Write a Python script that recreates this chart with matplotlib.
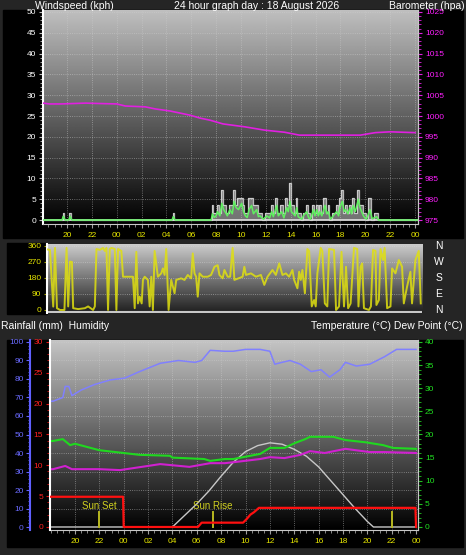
import numpy as np
import matplotlib
matplotlib.use('Agg')
import matplotlib.pyplot as plt
from matplotlib.patches import Rectangle
from matplotlib.ticker import MultipleLocator

plt.rcParams['font.family'] = ['Liberation Sans', 'DejaVu Sans']

# hours: 20 = 20:00 previous day, 24 = 00:00, 48 = 00:00 end of day
hour_ticks = [20, 22, 24, 26, 28, 30, 32, 34, 36, 38, 40, 42, 44, 46, 48]
hour_labels = ['20', '22', '00', '02', '04', '06', '08', '10', '12', '14', '16', '18', '20', '22', '00']

# windspeed (kph): gust and average
wind_t = [18.07, 19.6, 19.7, 19.85, 20.15, 20.25, 20.4, 28.45, 28.55, 28.7,
          31.6, 31.7, 31.85, 32.0, 32.1, 32.3, 32.45, 32.6, 32.75, 32.9,
          33.1, 33.3, 33.45, 33.6, 33.8, 34.05, 34.2, 34.35, 34.5, 34.65,
          34.85, 35.0, 35.26, 35.4, 35.53, 35.8, 36.07, 36.3, 36.47, 36.6,
          36.87, 37.0, 37.27, 37.45, 37.67, 37.8, 37.94, 38.05, 38.21, 38.35,
          38.48, 38.6, 38.74, 38.9, 39.01, 39.15, 39.28, 39.45, 39.6, 39.82,
          39.95, 40.09, 40.22, 40.35, 40.5, 40.76, 40.9, 41.02, 41.2, 41.42,
          41.55, 41.7, 41.85, 41.96, 42.15, 42.3, 42.42, 42.6, 42.77, 42.9,
          43.03, 43.2, 43.44, 43.57, 43.7, 43.85, 43.97, 44.1, 44.38, 44.55,
          44.92, 45.05, 48.24]
gust_v = [0, 0, 1.8, 0, 0, 1.8, 0, 0, 1.8, 0,
          0, 3.6, 1.8, 1.8, 3.6, 1.8, 7.2, 3.6, 3.6, 1.8,
          3.6, 3.6, 7.2, 3.6, 5.4, 5.4, 3.6, 1.8, 1.8, 5.4,
          5.4, 3.6, 3.6, 1.8, 1.8, 0, 1.8, 1.8, 3.6, 1.8,
          5.4, 1.8, 3.6, 1.8, 5.4, 3.6, 9.0, 3.6, 3.6, 1.8,
          5.4, 1.8, 1.8, 0, 1.8, 1.8, 3.6, 1.8, 0, 3.6,
          1.8, 3.6, 1.8, 3.6, 1.8, 5.4, 1.8, 3.6, 0, 1.8,
          1.8, 3.6, 1.8, 5.4, 7.2, 1.8, 3.6, 1.8, 3.6, 1.8,
          5.4, 1.8, 7.2, 3.6, 3.6, 1.8, 1.8, 0, 5.4, 0,
          1.8, 0, 0]
avg_v = [0, 0, 0.9, 0, 0, 0.9, 0, 0, 0.8, 0,
         0, 1.5, 0.6, 1.0, 2.0, 1.0, 4.0, 2.5, 1.8, 1.0,
         2.5, 1.5, 4.5, 3.0, 2.5, 4.0, 2.0, 1.0, 0.6, 2.5,
         3.5, 1.5, 2.5, 0.8, 1.0, 0.2, 1.0, 0.5, 2.0, 0.8,
         3.5, 1.0, 2.0, 0.5, 3.0, 2.0, 4.5, 2.0, 1.5, 1.0,
         3.0, 0.8, 0.5, 0.2, 1.0, 1.5, 2.0, 0.5, 0.2, 2.5,
         1.0, 2.5, 1.0, 2.0, 1.0, 3.5, 1.5, 2.0, 0.2, 1.0,
         1.5, 2.0, 1.0, 3.0, 4.5, 2.0, 2.5, 1.5, 3.0, 1.5,
         3.5, 2.0, 5.0, 3.0, 2.0, 1.0, 0.5, 0.2, 2.5, 0.3,
         0.8, 0, 0]

# barometer (hpa)
baro_t = [18.07, 18.6, 19.5, 20.5, 21.5, 22.65, 24.0, 24.7, 26.3, 27.1, 28.3, 29.9, 30.7,
          31.5, 32.55, 34.3, 35.9, 37.5, 38.7, 40.0, 42.0, 43.6, 44.8, 46.0, 48.0]
baro_v = [1003.1, 1002.9, 1002.9, 1003.0, 1003.1, 1003.0, 1002.9, 1002.4, 1002.2, 1001.7,
          1001.2, 1000.2, 999.5, 999.0, 998.1, 997.4, 996.6, 996.1, 995.4, 995.4,
          995.4, 995.4, 996.0, 996.2, 996.0]

# wind direction (degrees)
dir_t = [18.07, 18.24, 18.5, 18.64, 18.8, 19.04, 19.4, 19.57, 19.7, 19.84, 20.0, 20.1, 20.5,
         21.04, 21.3, 21.7, 21.84, 21.97, 22.24, 22.5, 22.64, 22.77, 22.9, 23.04, 23.17,
         23.44, 23.57, 23.7, 23.97, 24.1, 24.24, 24.9, 25.04, 25.17, 25.3, 25.44, 25.6,
         25.7, 25.84, 26.1, 26.24, 26.37, 26.5, 26.64, 26.9, 27.17, 27.3, 27.44, 27.57,
         27.76, 27.97, 28.24, 28.37, 28.77, 29.04, 29.3, 29.57, 29.7, 29.84, 29.97, 30.1,
         30.24, 30.5, 30.9, 31.17, 31.44, 31.7, 31.84, 32.1, 32.24, 32.5, 32.7, 32.9,
         33.04, 33.7, 33.84, 33.97, 34.37, 34.77, 35.17, 35.44, 35.7, 36.1, 36.37, 36.64,
         36.9, 37.17, 37.44, 37.7, 37.84, 38.1, 38.24, 38.37, 38.5, 38.7, 38.9, 39.04,
         39.25, 39.44, 39.57, 39.7, 39.84, 39.97, 40.1, 40.3, 40.5, 40.64, 41.04, 41.2,
         41.44, 41.64, 41.84, 42.0, 42.17, 42.37, 42.64, 42.9, 43.0, 43.17, 43.3, 43.44,
         43.84, 44.0, 44.17, 44.37, 44.44, 44.64, 44.77, 44.97, 45.1, 45.3, 45.57, 45.7,
         45.97, 46.24, 46.5, 46.64, 46.9, 47.17, 47.3, 47.57, 47.84, 48.0]
dir_v = [340, 337, 19, 349, 10, 0, 0, 349, 20, 272, 270, 10, 5,
         10, 20, 0, 20, 343, 338, 349, 332, 349, 0, 343, 349,
         343, 0, 343, 332, 187, 187, 187, 10, 327, 37, 75, 37,
         169, 187, 169, 20, 187, 0, 332, 187, 206, 234, 197, 343,
         0, 169, 94, 169, 178, 169, 197, 178, 318, 206, 187, 75,
         206, 187, 187, 197, 243, 252, 197, 178, 225, 187, 187, 349,
         169, 187, 243, 197, 206, 187, 197, 141, 187, 225, 197, 262,
         197, 206, 187, 225, 169, 122, 215, 169, 225, 94, 343, 332,
         20, 56, 20, 206, 281, 349, 332, 37, 20, 343, 338, 0,
         20, 327, 20, 243, 10, 37, 349, 343, 20, 243, 262, 10,
         0, 20, 338, 332, 28, 56, 343, 281, 349, 10, 20, 234,
         206, 281, 243, 37, 131, 215, 37, 281, 332, 37]
dir_labels = ['N', 'W', 'S', 'E', 'N']
dir_label_pos = [360, 270, 180, 90, 0]

# humidity (%)
hum_t = [18.0, 18.2, 19.0, 19.2, 19.5, 19.75, 20.5, 21.6, 22.9, 24.1, 25.3, 27.0, 28.5, 29.85,
         30.4, 31.1, 32.3, 33.0, 34.0, 35.2, 36.0, 36.4, 37.0, 37.65, 38.5, 39.4, 40.2, 40.9,
         41.75, 42.2, 43.1, 44.2, 45.4, 46.4, 48.0]
hum_v = [68, 68, 70, 76, 76, 71, 74, 77, 79.5, 80.5, 84, 88.5, 90, 89,
         90, 95.5, 95, 95, 96, 96, 95, 88, 89, 90, 88, 84, 85, 81,
         85, 89, 87, 88, 92, 96, 96]

# temperature and dew point (C)
temp_t = [18.0, 18.2, 19.0, 19.6, 20.0, 22.0, 24.0, 25.3, 27.8, 28.0, 30.6, 31.1, 32.3, 33.0,
          33.8, 35.2, 36.0, 37.2, 38.1, 38.9, 39.3, 41.2, 42.2, 43.9, 45.3, 46.1, 48.0]
temp_v = [18.6, 18.6, 19.0, 17.7, 18.0, 16.6, 16.0, 15.6, 15.4, 15.0, 14.7, 14.3, 14.7, 14.7,
          15.1, 15.8, 17.1, 17.1, 18.2, 19.0, 19.5, 19.5, 18.8, 18.3, 17.7, 17.1, 16.9]
dew_t = [18.0, 18.2, 19.2, 19.75, 22.0, 23.7, 27.0, 29.4, 31.1, 32.3, 33.0, 35.2, 36.0, 37.2,
         38.5, 39.3, 40.5, 42.2, 44.2, 45.4, 48.0]
dew_v = [12.5, 12.5, 13.2, 12.5, 12.5, 12.3, 13.6, 13.0, 13.8, 13.8, 14.0, 14.7, 15.1, 14.9,
         15.6, 16.4, 16.0, 16.9, 16.2, 16.2, 16.0]

# solar curve (drawn on temperature scale)
solar_t = [18.0, 28.0, 29.0, 30.0, 31.0, 32.0, 33.0, 34.0, 35.0, 36.0, 37.0, 38.0, 39.0,
           40.0, 41.0, 42.0, 43.0, 44.0, 44.5, 48.0]
solar_v = [0, 0, 2.5, 5.0, 7.8, 11.0, 14.0, 16.3, 17.6, 18.2, 17.9, 16.8, 15.3,
           13.0, 10.0, 7.0, 4.0, 1.2, 0, 0]

# rainfall (mm)
rain_t = [18.0, 23.95, 24.0, 30.1, 30.4, 33.8, 34.1, 34.4, 34.7, 35.1, 47.95, 48.0]
rain_v = [4.9, 4.9, 0, 0, 0.7, 0.7, 1.3, 2.0, 2.4, 3.1, 3.1, 0]

sun_set = 22.0
sun_rise = 31.33
sun_set2 = 46.0

W, H = 466, 555
BG = '#252525'
YEL = '#e6e600'
TS = 6


def box(x0, y0, x1, y1):
    return [x0 / W, 1 - y1 / H, (x1 - x0) / W, (y1 - y0) / H]


def black(x0, y0, x1, y1):
    fig.add_artist(Rectangle((x0 / W, 1 - y1 / H), (x1 - x0) / W, (y1 - y0) / H,
                             transform=fig.transFigure, color='black', zorder=-1))


def gradient(ax, top, bottom):
    g = np.linspace(top, bottom, 256).reshape(-1, 1)
    x0, x1 = ax.get_xlim()
    y0, y1 = ax.get_ylim()
    ax.imshow(g, extent=(x0, x1, y0, y1), aspect='auto', cmap='gray', vmin=0, vmax=1,
              origin='upper', zorder=0, interpolation='bilinear')
    ax.set_xlim(x0, x1)
    ax.set_ylim(y0, y1)


def hours_axis(ax):
    ax.set_xticks(hour_ticks)
    ax.set_xticklabels(hour_labels)
    ax.xaxis.set_minor_locator(MultipleLocator(0.5))
    ax.tick_params(axis='x', which='both', colors='#a0a0a0', labelcolor=YEL,
                   labelsize=TS, pad=3)
    ax.tick_params(axis='x', which='major', length=3)
    ax.tick_params(axis='x', which='minor', length=2)


fig = plt.figure(figsize=(W / 100, H / 100), dpi=100, facecolor=BG)

# ---------------- top panel: wind speed + barometer
black(3, 10, 463, 238)
ax1 = fig.add_axes(box(43, 10, 418, 224))
ax1.set_xlim(18.07, 48.24)
ax1.set_ylim(-0.96, 50.48)
gradient(ax1, 0.75, 0.0)
for h in hour_ticks:
    ax1.axvline(h, color='#d0d0d0', lw=0.6, ls=':', alpha=0.6, zorder=1)
for v in range(5, 51, 5):
    ax1.axhline(v, color='#d0d0d0', lw=0.6, ls=':', alpha=0.6, zorder=1)
ax1.fill_between(wind_t, gust_v, 0, step='mid', color='#d0d0d0', alpha=0.55, lw=0, zorder=2)
ax1.plot(wind_t, gust_v, drawstyle='steps-mid', color='#e0e0e0', lw=0.9, alpha=0.8, zorder=2)
ax1.axhline(0, color='#d8d8d8', lw=1.3, zorder=2)
ax1.plot(wind_t, avg_v, color='#60ee60', lw=1.1, zorder=3)
ax1.yaxis.set_major_locator(MultipleLocator(5))
ax1.yaxis.set_minor_locator(MultipleLocator(1))
ax1.tick_params(axis='y', which='both', colors='#c0c0c0', labelcolor='white', labelsize=TS)
ax1.tick_params(axis='y', which='major', length=3, pad=2)
ax1.tick_params(axis='y', which='minor', length=2)
hours_axis(ax1)
ax1.spines['top'].set_visible(False)
ax1.spines['left'].set_color('white')
ax1.spines['left'].set_linewidth(1.5)
ax1.spines['bottom'].set_color('#c8c8c8')
ax1.spines['right'].set_color('#c8c8c8')

ax1b = ax1.twinx()
ax1b.set_ylim(974.04, 1025.48)
ax1b.plot(baro_t, baro_v, color='#e020e0', lw=1.2, zorder=3)
ax1b.yaxis.set_major_locator(MultipleLocator(5))
ax1b.yaxis.set_minor_locator(MultipleLocator(1))
ax1b.tick_params(axis='y', which='both', colors='#e020e0', labelcolor='#ff20ff', labelsize=TS)
ax1b.tick_params(axis='y', which='major', length=3, pad=2)
ax1b.tick_params(axis='y', which='minor', length=2)
for s in ['top', 'left', 'bottom']:
    ax1b.spines[s].set_visible(False)
ax1b.spines['right'].set_color('#c8c8c8')

fig.text(35 / W, 1 - 6 / H, 'Windspeed (kph)', color='white', fontsize=7.5, va='center')
fig.text(257 / W, 1 - 6 / H, '24 hour graph day : 18 August 2026', color='white',
         fontsize=7.5, va='center', ha='center')
fig.text(465 / W, 1 - 6 / H, 'Barometer (hpa)', color='white', fontsize=7.5,
         va='center', ha='right')

# ---------------- middle panel: wind direction
black(7, 243, 47, 314)
ax2 = fig.add_axes(box(47, 244, 422, 313))
ax2.set_xlim(18.0, 48.1)
ax2.set_ylim(-17, 371)
gradient(ax2, 0.8, 0.12)
for v in [90, 180, 270, 360]:
    ax2.axhline(v, color='#d8d8d8', lw=0.6, ls=':', alpha=0.6, zorder=1)
ax2.axhline(-9, color='#c8c8c8', lw=1.5, zorder=1)
ax2.plot(dir_t, dir_v, color='#e0e010', lw=1.4, alpha=0.85, zorder=3)
ax2.set_xticks([])
ax2.set_yticks([0, 90, 180, 270, 360])
ax2.tick_params(axis='y', colors='#a0a000', labelcolor=YEL, labelsize=TS, length=2, pad=2)
for s in ['top', 'right', 'bottom']:
    ax2.spines[s].set_visible(False)
ax2.spines['left'].set_color('white')
ax2.spines['left'].set_linewidth(1.5)
for lab, v in zip(dir_labels, dir_label_pos):
    ax2.text(1.045, v, lab, transform=ax2.get_yaxis_transform(), color='white',
             fontsize=7.5, ha='center', va='center', clip_on=False)

# ---------------- bottom panel: humidity, rain, temperature, dew point
fig.text(1 / W, 1 - 326 / H, 'Rainfall (mm)  Humidity', color='white', fontsize=7.5, va='center')
fig.text(463 / W, 1 - 326 / H, 'Temperature (\u00b0C) Dew Point (\u00b0C)', color='white',
         fontsize=7.5, va='center', ha='right')
black(7, 340, 463, 547)
ax3 = fig.add_axes(box(50, 340, 418, 530))
ax3.set_xlim(17.95, 48.16)
ax3.set_ylim(-1.62, 101.08)
gradient(ax3, 0.77, 0.0)
for h in hour_ticks:
    ax3.axvline(h, color='#d0d0d0', lw=0.6, ls=':', alpha=0.6, zorder=1)
for v in range(10, 101, 10):
    ax3.axhline(v, color='#d0d0d0', lw=0.6, ls=':', alpha=0.6, zorder=1)
ax3.plot(hum_t, hum_v, color='#8080ff', lw=1.1, zorder=3)
ax3.yaxis.set_major_locator(MultipleLocator(10))
ax3.yaxis.set_minor_locator(MultipleLocator(2))
ax3.tick_params(axis='y', which='both', colors='#6060ff', labelcolor='#6a6aff', labelsize=TS)
ax3.tick_params(axis='y', which='major', length=3, pad=1.5)
ax3.tick_params(axis='y', which='minor', length=1.5)
ax3.spines['left'].set_position(('outward', 14.4))
ax3.spines['left'].set_color('#6060ff')
ax3.spines['left'].set_linewidth(1.5)
ax3.spines['top'].set_visible(False)
ax3.spines['bottom'].set_color('#c8c8c8')
ax3.spines['right'].set_color('#c8c8c8')
hours_axis(ax3)

ax3t = ax3.twinx()
ax3t.set_ylim(-0.65, 40.43)
ax3t.plot(solar_t, solar_v, color='#c8c8c8', lw=1.0, zorder=2)
ax3t.plot(dew_t, dew_v, color='#d020d0', lw=1.5, zorder=3)
ax3t.plot(temp_t, temp_v, color='#20d820', lw=1.5, zorder=3)
for t in [sun_set, sun_rise, sun_set2]:
    ax3t.plot([t, t], [0, 3.3], color='#b8b820', lw=1.4, zorder=4)
ax3t.text(sun_set, 4.6, 'Sun Set', color='#d0d020', fontsize=7, ha='center', va='center')
ax3t.text(sun_rise, 4.6, 'Sun Rise', color='#d0d020', fontsize=7, ha='center', va='center')
ax3t.yaxis.set_major_locator(MultipleLocator(5))
ax3t.yaxis.set_minor_locator(MultipleLocator(1))
ax3t.tick_params(axis='y', which='both', colors='#20c020', labelcolor='#20e020', labelsize=TS)
ax3t.tick_params(axis='y', which='major', length=3, pad=2)
ax3t.tick_params(axis='y', which='minor', length=2)
for s in ['top', 'left', 'bottom']:
    ax3t.spines[s].set_visible(False)
ax3t.spines['right'].set_color('#c8c8c8')

ax3r = ax3.twinx()
ax3r.set_ylim(-0.49, 30.32)
ax3r.plot(rain_t, rain_v, color='#ff1010', lw=1.6, zorder=5)
ax3r.yaxis.tick_left()
ax3r.yaxis.set_major_locator(MultipleLocator(5))
ax3r.yaxis.set_minor_locator(MultipleLocator(1))
ax3r.tick_params(axis='y', which='both', colors='#e01010', labelcolor='#ff2020', labelsize=TS)
ax3r.tick_params(axis='y', which='major', length=3, pad=2)
ax3r.tick_params(axis='y', which='minor', length=2)
for s in ['top', 'right', 'bottom']:
    ax3r.spines[s].set_visible(False)
ax3r.spines['left'].set_visible(True)
ax3r.spines['left'].set_color('white')
ax3r.spines['left'].set_linewidth(1.5)

fig.savefig('out.png', dpi=100, facecolor=BG)
